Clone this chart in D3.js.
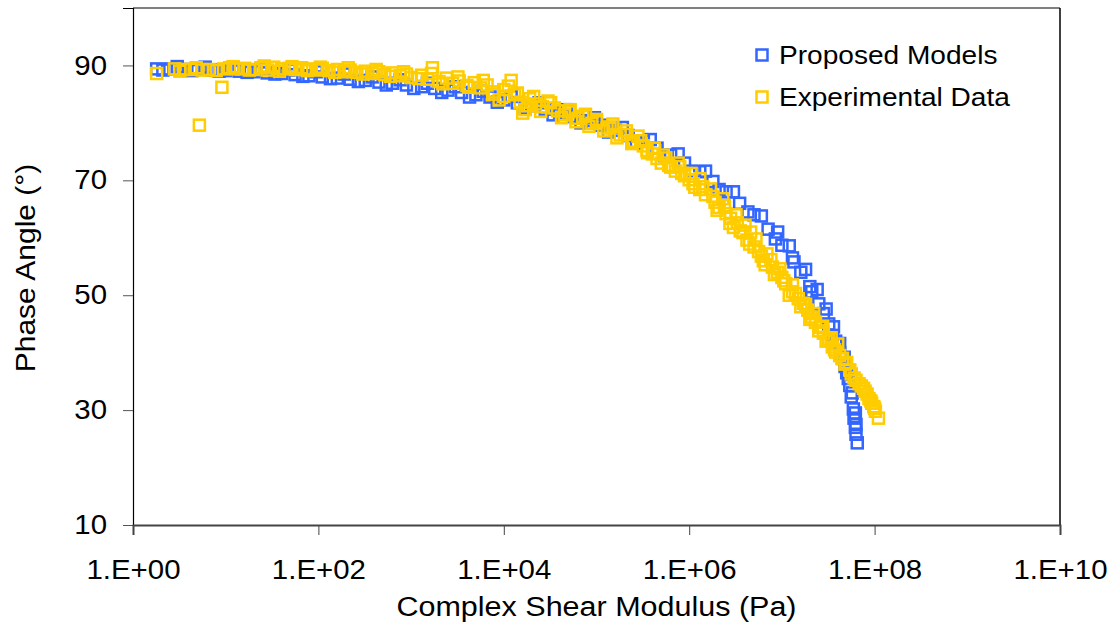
<!DOCTYPE html>
<html>
<head>
<meta charset="utf-8">
<script src="https://cdn.jsdelivr.net/npm/d3@7"></script>
<style>
  body { margin: 0; background: #fff; }
  text { font-family: "Liberation Sans", Arial, sans-serif; fill: #000; }
</style>
</head>
<body>
<div id="chart"></div>
<script>
// Proposed model: complex shear modulus (Pa) and phase angle (deg)
const modelModulus = [
  1.8e0, 2.5e0, 3.5e0, 5.0e0, 7.1e0, 1.0e1, 1.4e1, 2.0e1, 2.8e1, 4.0e1,
  5.6e1, 7.9e1, 1.1e2, 1.6e2, 2.2e2, 3.2e2, 4.5e2, 6.3e2, 8.9e2, 1.3e3,
  1.8e3, 2.5e3, 3.5e3, 5.0e3, 7.1e3, 1.0e4, 1.4e4, 2.0e4, 2.8e4, 4.0e4,
  5.6e4, 7.9e4, 1.1e5, 1.6e5, 2.2e5, 3.2e5, 4.5e5, 6.3e5, 8.9e5, 1.3e6,
  1.8e6, 2.5e6, 3.5e6, 5.0e6, 7.1e6, 1.0e7, 1.3e7, 1.6e7, 2.0e7, 2.5e7,
  3.2e7, 3.8e7, 4.5e7, 5.0e7, 5.4e7, 5.6e7, 5.9e7, 6.0e7, 6.2e7, 6.3e7,
  6.5e7,
  3.0e0, 6.0e0, 1.2e1, 2.4e1, 4.8e1, 9.5e1, 1.9e2, 3.8e2, 7.6e2, 1.5e3,
  3.0e3, 6.0e3, 1.2e4, 2.4e4, 4.8e4, 9.5e4, 1.9e5, 3.8e5, 7.6e5, 1.5e6,
  3.0e6, 6.0e6, 9.0e6, 1.2e7, 1.8e7, 2.4e7, 3.0e7, 3.6e7, 4.2e7, 4.7e7,
  2.1e0, 4.3e0, 8.5e0, 1.7e1, 3.4e1, 6.8e1, 1.35e2, 2.7e2, 5.4e2, 1.07e3,
  2.14e3, 4.27e3, 8.5e3, 1.7e4, 3.4e4, 6.8e4, 1.35e5, 2.7e5, 5.4e5, 1.07e6,
  2.1e6, 4.3e6, 8.5e6, 1.35e7, 2.1e7, 2.8e7, 3.5e7, 4.2e7, 4.8e7, 5.2e7,
  5.75e7, 6.2e7, 6.3e7
];
const modelPhase = [
  89.4, 89.4, 89.3, 89.3, 89.2, 89.1, 89.0, 88.9, 88.7, 88.6,
  88.4, 88.2, 88.0, 87.8, 87.6, 87.4, 87.1, 86.9, 86.6, 86.3,
  86.0, 85.7, 85.3, 84.9, 84.5, 84.0, 83.5, 83.0, 82.4, 81.8,
  81.1, 80.4, 79.6, 78.7, 77.8, 76.8, 75.6, 74.4, 73.0, 71.5,
  69.8, 68.0, 66.0, 64.0, 61.5, 58.7, 56.5, 54.0, 51.5, 48.5,
  45.0, 42.0, 39.0, 36.5, 34.3, 32.3, 30.2, 28.6, 27.0, 25.8,
  24.3,
  89.8, 89.7, 89.6, 89.4, 89.2, 88.9, 88.5, 88.0, 87.5, 86.9,
  86.3, 85.5, 84.6, 83.5, 82.3, 80.9, 79.2, 77.1, 74.6, 71.6,
  68.0, 63.8, 61.0, 58.6, 54.5, 51.0, 47.6, 44.5, 41.6, 39.2,
  89.2, 89.1, 89.0, 88.8, 88.5, 88.1, 87.7, 87.2, 86.6, 86.0,
  85.3, 84.5, 83.6, 82.6, 81.4, 80.0, 78.4, 76.5, 74.3, 71.6,
  68.4, 64.5, 59.8, 55.8, 50.6, 46.8, 43.0, 40.0, 37.6, 35.5,
  33.0, 29.5, 27.5
];

// Experimental data: complex shear modulus (Pa) and phase angle (deg)
const expModulus = [
  1.8e0, 2.8e0, 3.5e0, 4.2e0, 5.2e0, 5.6e0, 6.6e0, 9.1e0, 9.5e0, 1.1e1,
  1.3e1, 1.6e1, 2.0e1, 2.4e1, 2.8e1, 3.3e1, 4.0e1, 4.8e1, 5.6e1, 6.6e1,
  7.9e1, 9.5e1, 1.1e2, 1.3e2, 1.6e2, 1.9e2, 2.2e2, 2.6e2, 3.2e2, 3.8e2,
  4.5e2, 5.2e2, 6.3e2, 7.6e2, 8.9e2, 1.0e3, 1.3e3, 1.5e3, 1.7e3, 2.0e3,
  2.4e3, 2.8e3, 3.3e3, 4.0e3, 4.8e3, 5.6e3, 6.6e3, 7.9e3, 8.9e3, 1.0e4,
  1.2e4, 1.3e4, 1.5e4, 1.7e4, 1.9e4, 2.2e4, 2.6e4, 3.2e4, 3.8e4, 4.5e4,
  5.2e4, 6.3e4, 7.6e4, 8.9e4, 1.0e5, 1.3e5, 1.5e5, 1.8e5, 2.1e5, 2.5e5,
  2.8e5, 3.2e5, 3.5e5, 4.0e5, 4.5e5, 5.0e5, 5.6e5, 6.3e5, 7.1e5, 7.9e5,
  8.9e5, 1.0e6, 1.1e6, 1.3e6, 1.3e6, 1.5e6, 1.7e6, 1.9e6, 2.1e6, 2.3e6,
  2.5e6, 2.8e6, 3.0e6, 3.3e6, 3.8e6, 4.2e6, 4.6e6, 5.0e6, 5.6e6, 6.3e6,
  6.9e6, 7.9e6, 8.9e6, 1.0e7, 1.1e7, 1.3e7, 1.3e7, 1.5e7, 1.7e7, 1.9e7,
  2.1e7, 2.3e7, 2.6e7, 2.8e7, 3.2e7, 3.5e7, 3.8e7, 4.2e7, 4.8e7, 5.4e7,
  6.0e7, 6.8e7, 7.6e7, 8.3e7, 9.1e7, 9.8e7, 1.02e8, 1.1e8,
  3.2e0, 4.8e0, 7.9e0, 1.2e1, 1.8e1, 2.6e1, 3.8e1, 5.2e1, 7.6e1, 1.05e2,
  1.5e2, 2.1e2, 3.0e2, 4.2e2, 6.0e2, 8.3e2, 1.2e3, 1.66e3, 2.2e3, 3.2e3,
  4.2e3, 6.0e3, 7.6e3, 1.0e4, 1.12e4, 1.4e4, 1.6e4, 1.8e4, 2.1e4, 2.5e4,
  3.0e4, 3.5e4, 4.2e4, 5.0e4, 6.0e4, 7.1e4, 8.3e4, 1.0e5, 1.2e5, 1.4e5,
  1.66e5, 2.0e5, 2.4e5, 3.0e5, 3.55e5, 4.2e5, 5.25e5, 6.0e5, 7.6e5, 8.3e5,
  1.05e6, 1.15e6, 1.4e6, 1.8e6, 2.0e6, 2.4e6, 2.75e6, 3.2e6, 3.55e6, 4.0e6,
  4.5e6, 5.25e6, 6.0e6, 6.6e6, 7.6e6, 8.3e6, 9.5e6, 1.05e7, 1.2e7, 1.4e7,
  1.6e7, 1.8e7, 2.0e7, 2.2e7, 2.5e7, 2.75e7, 3.0e7, 3.4e7, 3.7e7, 4.0e7,
  4.5e7, 5.0e7, 5.6e7, 6.3e7, 7.2e7, 7.9e7, 8.7e7, 9.3e7, 1.0e8
];
const expPhase = [
  88.6, 89.4, 89.3, 89.3, 79.6, 89.2, 89.3, 86.2, 89.4, 89.6,
  89.4, 89.5, 89.3, 89.6, 89.2, 89.7, 89.4, 89.5, 89.3, 89.6,
  89.4, 89.2, 89.5, 89.1, 89.3, 88.9, 89.2, 88.8, 89.0, 88.6,
  88.9, 88.4, 88.7, 88.2, 88.5, 87.9, 88.3, 87.6, 89.6, 87.2,
  87.8, 86.9, 87.3, 86.5, 87.0, 86.1, 86.6, 85.4, 84.0, 85.8,
  87.4, 84.9, 83.6, 82.3, 84.2, 83.3, 82.8, 83.5, 82.1, 81.4,
  82.3, 80.8, 81.5, 79.9, 80.6, 79.1, 79.8, 77.9, 78.6, 76.8,
  77.7, 76.0, 75.2, 74.6, 73.8, 73.0, 73.9, 72.3, 71.6, 72.4,
  70.8, 70.1, 69.4, 70.3, 68.4, 67.5, 68.5, 66.2, 65.3, 66.8,
  64.2, 63.4, 61.8, 62.6, 60.9, 59.6, 61.0, 58.4, 57.6, 56.0,
  57.2, 54.9, 54.0, 53.1, 52.0, 50.6, 51.8, 49.4, 48.6, 47.4,
  46.2, 45.3, 44.4, 43.4, 42.3, 41.0, 40.1, 39.5, 38.0, 37.0,
  35.6, 34.6, 33.8, 32.8, 31.6, 30.6, 29.8, 28.6,
  89.0, 89.6, 89.1, 89.8, 89.2, 89.9, 89.0, 89.8, 89.1, 89.7,
  88.8, 89.6, 88.5, 89.3, 88.1, 88.9, 87.7, 88.6, 86.8, 88.0,
  86.2, 87.4, 85.0, 84.6, 86.4, 85.2, 81.7, 83.0, 84.6, 82.0,
  83.8, 82.6, 80.9, 81.9, 80.2, 81.1, 79.4, 80.2, 78.6, 79.3,
  77.4, 78.0, 76.4, 76.9, 74.8, 75.6, 74.4, 72.6, 73.0, 71.2,
  71.2, 68.8, 68.9, 67.2, 64.8, 65.6, 62.5, 64.0, 61.2, 62.2,
  58.9, 59.8, 56.8, 55.3, 56.2, 53.6, 54.6, 52.5, 50.0, 50.3,
  48.0, 48.4, 45.8, 46.8, 43.8, 44.6, 42.0, 42.6, 40.5, 41.5,
  39.0, 38.3, 36.3, 35.2, 34.2, 33.3, 32.0, 31.2, 30.3
];

const xTicks = [1e0, 1e2, 1e4, 1e6, 1e8, 1e10];
const xTickLabels = ["1.E+00", "1.E+02", "1.E+04", "1.E+06", "1.E+08", "1.E+10"];
const yTicks = [10, 30, 50, 70, 90];

const seriesNames = ["Proposed Models", "Experimental Data"];
const seriesColors = ["#3366ff", "#ffcc00"];

const width = 1114, height = 624;
const margin = {top: 8, right: 54, bottom: 99, left: 133};
const plotW = width - margin.left - margin.right;
const plotH = height - margin.top - margin.bottom;
// the reference text is slightly wider than plain Arial
const stretch = 1.09;

const svg = d3.select("#chart").append("svg")
  .attr("width", width)
  .attr("height", height);

const g = svg.append("g")
  .attr("transform", "translate(" + margin.left + "," + margin.top + ")");

const xScale = d3.scaleLog().domain([1e0, 1e10]).range([0, plotW]);
const yScale = d3.scaleLinear().domain([10, 100]).range([plotH, 0]);

// frame: top gray, right black
g.append("line").attr("x1", 0).attr("x2", plotW).attr("y1", 0).attr("y2", 0)
  .attr("stroke", "#808080").attr("stroke-width", 2);
g.append("line").attr("x1", plotW).attr("x2", plotW).attr("y1", 0).attr("y2", plotH)
  .attr("stroke", "#000").attr("stroke-width", 1.5);

// y axis
const yAxis = g.append("g")
  .call(d3.axisLeft(yScale).tickValues(yTicks).tickSize(10).tickPadding(16).tickFormat(d3.format("d")));
yAxis.select(".domain").attr("stroke", "#000").attr("stroke-width", 1.2);
yAxis.selectAll(".tick line").attr("stroke", "#555");
yAxis.selectAll(".tick text")
  .style("font-size", "27px").attr("fill", "#000")
  .attr("x", -26 / stretch)
  .attr("transform", "scale(" + stretch + ",1)");

// x axis
const xAxis = g.append("g")
  .attr("transform", "translate(0," + plotH + ")")
  .call(d3.axisBottom(xScale).tickValues(xTicks).tickSize(10).tickPadding(25)
    .tickFormat((d, i) => xTickLabels[i]));
xAxis.select(".domain").attr("stroke", "#444").attr("stroke-width", 2);
xAxis.selectAll(".tick line").attr("stroke", "#444");
xAxis.selectAll(".tick text")
  .style("font-size", "27px").attr("fill", "#000")
  .attr("transform", "scale(" + stretch + ",1)");

// axis titles
svg.append("g")
  .attr("transform", "translate(" + (margin.left + plotW / 2) + ",616)")
  .append("text")
  .attr("text-anchor", "middle")
  .attr("transform", "scale(" + stretch + ",1)")
  .style("font-size", "28px")
  .text("Complex Shear Modulus (Pa)");
svg.append("g")
  .attr("transform", "translate(35,268) rotate(-90)")
  .append("text")
  .attr("text-anchor", "middle")
  .attr("transform", "scale(1.07,1)")
  .style("font-size", "28px")
  .text("Phase Angle (°)");

// markers
const markerSize = 11;
const drawSeries = function(xs, ys, color) {
  g.append("g").selectAll("rect")
    .data(xs.map((x, i) => ({x: x, y: ys[i]})))
    .join("rect")
    .attr("x", d => xScale(d.x) - markerSize / 2)
    .attr("y", d => yScale(d.y) - markerSize / 2)
    .attr("width", markerSize)
    .attr("height", markerSize)
    .attr("fill", "none")
    .attr("stroke", color)
    .attr("stroke-width", 2.5);
};
drawSeries(modelModulus, modelPhase, seriesColors[0]);
drawSeries(expModulus, expPhase, seriesColors[1]);

// legend
seriesNames.forEach((name, i) => {
  const row = svg.append("g").attr("transform", "translate(762," + (55 + i * 42) + ")");
  row.append("rect")
    .attr("x", -5.5).attr("y", -5.5).attr("width", 11).attr("height", 11)
    .attr("fill", "none").attr("stroke", seriesColors[i]).attr("stroke-width", 2.5);
  row.append("g").attr("transform", "translate(17,9)")
    .append("text")
    .attr("transform", "scale(1.08,1)")
    .style("font-size", "26px")
    .text(name);
});
</script>
</body>
</html>
